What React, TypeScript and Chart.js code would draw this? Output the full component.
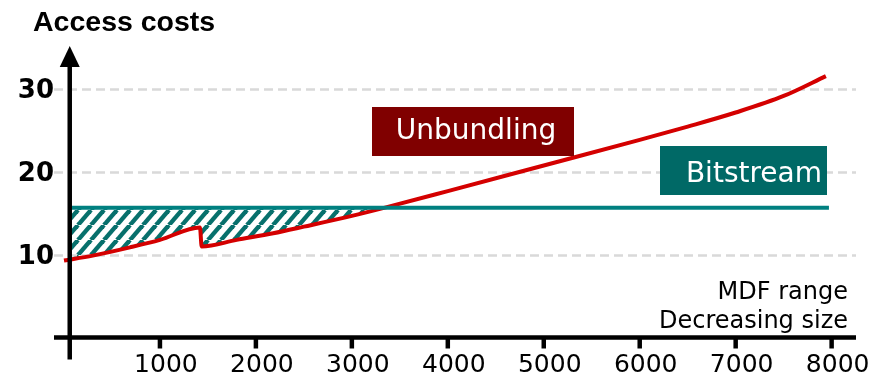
import React, { useEffect, useRef } from 'react';
import { Chart, registerables } from 'chart.js';

Chart.register(...registerables);

// ---- data ----
const chartTitle = 'Access costs';
const unbundlingLabel = 'Unbundling';
const bitstreamLabel = 'Bitstream';
const axisNoteLines = ['MDF range', 'Decreasing size'];

const unbundlingX = [0, 300, 688, 1000, 1417, 1435, 1800, 2181, 2500, 3000, 3345, 4000, 5000, 6000, 6500, 7000, 7500, 7940];
const unbundlingY = [9.3, 9.9, 10.9, 11.8, 13.3, 11.0, 11.8, 12.6, 13.4, 14.7, 15.7, 17.7, 20.8, 23.9, 25.5, 27.2, 29.2, 31.6];

const bitstreamX = [83, 7972];
const bitstreamY = [15.7, 15.7];

const xTickValues = [1000, 2000, 3000, 4000, 5000, 6000, 7000, 8000];
const yTickValues = [10, 20, 30];

const xMin = -104;
const xMax = 8254;
const yMin = 0;
const yMax = 35;
const yAxisAtX = 60;

const RED = '#d40000';
const TEAL = '#008080';
const DARK_TEAL = '#006966';
const MAROON = '#800000';

function makeHatch(ctx: CanvasRenderingContext2D) {
  const w = 13;
  const h = 15;
  const tile = document.createElement('canvas');
  tile.width = w;
  tile.height = h;
  const t = tile.getContext('2d')!;
  t.strokeStyle = '#07706c';
  t.lineWidth = 4.4;
  for (const o of [-w, 0, w]) {
    t.beginPath();
    t.moveTo(o, h);
    t.lineTo(o + w, 0);
    t.stroke();
  }
  return ctx.createPattern(tile, 'repeat')!;
}

const decorPlugin = {
  id: 'decor',
  beforeDatasetsDraw(chart: any) {
    const { ctx, chartArea, scales } = chart;
    const y = scales.y;
    ctx.save();
    ctx.strokeStyle = '#d9d9d9';
    ctx.lineWidth = 2.5;
    ctx.setLineDash([9, 5]);
    for (const v of yTickValues) {
      const py = Math.round(y.getPixelForValue(v)) + 0.5;
      ctx.beginPath();
      ctx.moveTo(chartArea.left, py);
      ctx.lineTo(chartArea.right, py);
      ctx.stroke();
    }
    ctx.restore();
  },
  afterDatasetsDraw(chart: any) {
    const { ctx, chartArea, scales } = chart;
    const x = scales.x;
    const y = scales.y;
    const axisY = y.getPixelForValue(yMin);
    const axisX = x.getPixelForValue(yAxisAtX);
    ctx.save();
    ctx.setLineDash([]);
    ctx.strokeStyle = '#000';
    ctx.fillStyle = '#000';
    ctx.lineWidth = 4.5;
    // x axis
    ctx.beginPath();
    ctx.moveTo(chartArea.left, axisY);
    ctx.lineTo(chartArea.right, axisY);
    ctx.stroke();
    // x ticks
    for (const v of xTickValues) {
      const px = x.getPixelForValue(v);
      ctx.beginPath();
      ctx.moveTo(px, axisY);
      ctx.lineTo(px, axisY + 11);
      ctx.stroke();
    }
    // y axis
    const topY = chartArea.top;
    ctx.beginPath();
    ctx.moveTo(axisX, axisY + 22);
    ctx.lineTo(axisX, topY + 14);
    ctx.stroke();
    ctx.beginPath();
    ctx.moveTo(axisX, topY - 2);
    ctx.lineTo(axisX - 10, topY + 19);
    ctx.lineTo(axisX + 10, topY + 19);
    ctx.closePath();
    ctx.fill();
    ctx.restore();
  },
  afterDraw(chart: any) {
    const { ctx } = chart;
    ctx.save();
    // title
    ctx.fillStyle = '#000';
    ctx.font = 'bold 28.5px "Liberation Sans", Arial, sans-serif';
    ctx.textAlign = 'left';
    ctx.textBaseline = 'alphabetic';
    ctx.fillText(chartTitle, 33, 31);

    // Unbundling label box
    ctx.fillStyle = MAROON;
    ctx.fillRect(372, 107, 202, 49);
    ctx.fillStyle = '#fff';
    ctx.font = '28px "DejaVu Sans", sans-serif';
    ctx.textAlign = 'center';
    ctx.fillText(unbundlingLabel, 476, 139);

    // Bitstream label box
    ctx.fillStyle = DARK_TEAL;
    ctx.fillRect(660, 146, 167, 49);
    ctx.fillStyle = '#fff';
    ctx.textAlign = 'right';
    ctx.fillText(bitstreamLabel, 822, 182);

    // axis note
    ctx.fillStyle = '#000';
    ctx.font = '24px "DejaVu Sans", sans-serif';
    ctx.textAlign = 'right';
    ctx.fillText(axisNoteLines[0], 848, 299);
    ctx.fillText(axisNoteLines[1], 848, 328);
    ctx.restore();
  },
};

export default function App() {
  const canvasRef = useRef<HTMLCanvasElement | null>(null);

  useEffect(() => {
    const canvas = canvasRef.current!;
    const ctx = canvas.getContext('2d')!;
    const hatch = makeHatch(ctx);

    const chart = new Chart(ctx, {
      type: 'line',
      data: {
        datasets: [
          {
            label: bitstreamLabel,
            data: bitstreamX.map((xv, i) => ({ x: xv, y: bitstreamY[i] })),
            borderColor: TEAL,
            borderWidth: 4,
            pointRadius: 0,
            tension: 0,
            fill: { target: 1, above: hatch, below: 'rgba(0,0,0,0)' },
          },
          {
            label: unbundlingLabel,
            data: unbundlingX.map((xv, i) => ({ x: xv, y: unbundlingY[i] })),
            borderColor: RED,
            borderWidth: 4,
            pointRadius: 0,
            cubicInterpolationMode: 'monotone',
            fill: false,
          },
        ],
      },
      options: {
        animation: false,
        responsive: false,
        devicePixelRatio: 1,
        layout: { padding: { top: 48, right: 24, bottom: 0, left: 0 } },
        plugins: {
          legend: { display: false },
          tooltip: { enabled: false },
          filler: { drawTime: 'beforeDatasetsDraw' },
        },
        scales: {
          x: {
            type: 'linear',
            min: xMin,
            max: xMax,
            grid: { display: false, drawTicks: false },
            border: { display: false },
            afterBuildTicks: (scale: any) => {
              scale.ticks = xTickValues.map((v) => ({ value: v }));
            },
            afterFit: (scale: any) => {
              scale.height = 38.5;
            },
            ticks: {
              autoSkip: false,
              maxRotation: 0,
              padding: 13,
              labelOffset: 6,
              color: '#000',
              font: { family: 'DejaVu Sans', size: 25 },
              callback: (v: any) => String(v),
            },
          },
          y: {
            type: 'linear',
            min: yMin,
            max: yMax,
            grid: { display: false, drawTicks: false },
            border: { display: false },
            afterBuildTicks: (scale: any) => {
              scale.ticks = yTickValues.map((v) => ({ value: v }));
            },
            afterFit: (scale: any) => {
              scale.width = 54;
            },
            ticks: {
              padding: 0,
              labelOffset: 2,
              color: '#000',
              font: { family: 'DejaVu Sans', size: 26, weight: 'bold' },
              callback: (v: any) => String(v),
            },
          },
        },
      } as any,
      plugins: [decorPlugin],
    });

    return () => chart.destroy();
  }, []);

  return (
    <div style={{ position: 'absolute', left: 0, top: 0, width: 880, height: 376, background: '#fff' }}>
      <canvas ref={canvasRef} width={880} height={376} style={{ display: 'block' }} />
    </div>
  );
}
